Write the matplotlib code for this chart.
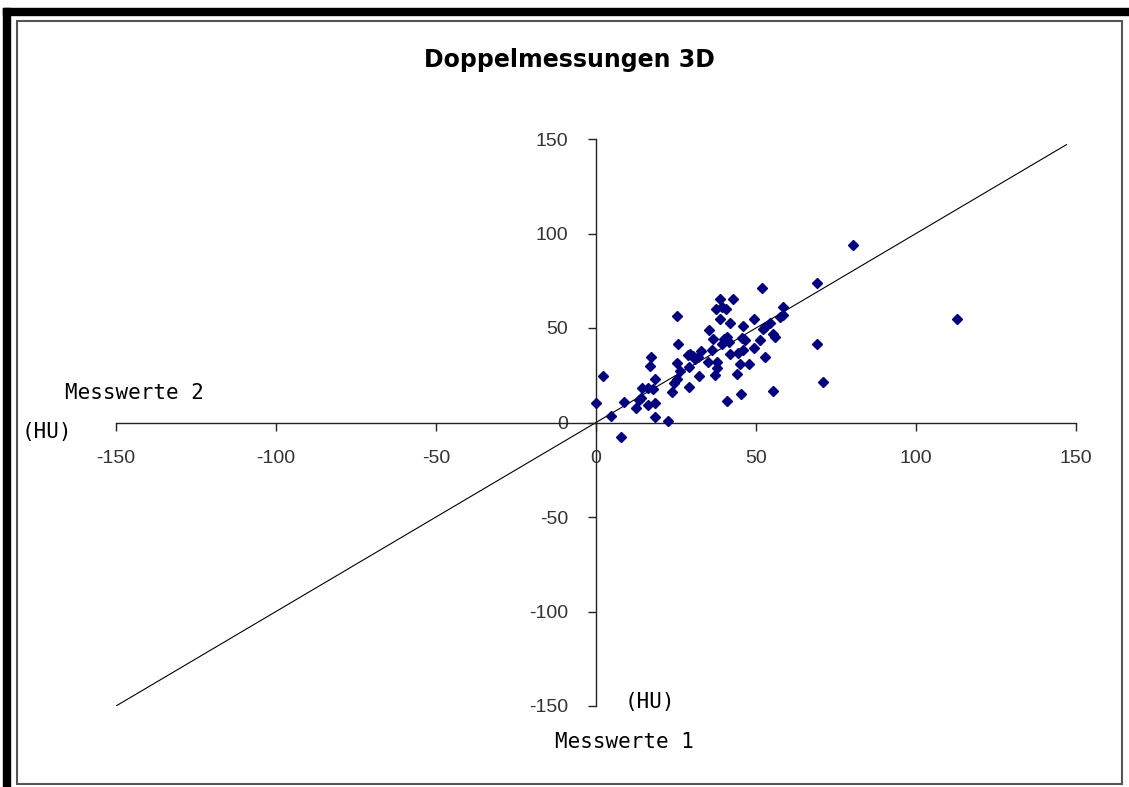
# libraries ----------------------
import matplotlib
matplotlib.use('Agg')
import matplotlib.pyplot as plt
from matplotlib.patches import Rectangle

plt.rcParams['axes.unicode_minus'] = False

# data ---------------------------
title = 'Doppelmessungen 3D'
ticks = [-150, -100, -50, 0, 50, 100, 150]

messwerte_1 = [80.2, 69.1, 52.0, 38.9, 42.8, 37.6, 40.5, 39.3, 58.3, 25.2,
               38.8, 49.3, 42.0, 46.0, 57.5, 58.3, 54.4, 52.8, 52.1, 35.2,
               36.5, 40.0, 40.8, 39.5, 41.5, 45.5, 46.6, 51.3, 55.2, 55.9,
               69.1, 25.5, 36.4, 32.8, 28.9, 30.4, 32.0, 31.0, 29.5, 41.9,
               44.5, 46.0, 49.5, 52.8, 17.1, 16.9, 25.2, 35.1, 37.7, 37.7,
               45.0, 47.8, 29.2, 26.3, 37.2, 32.2, 44.0, 2.1, 18.5, 25.2,
               24.5, 29.2, 71.0, 14.5, 16.4, 17.9, 23.6, 55.2, 45.4, 40.9,
               14.1, 13.5, 8.9, 0.0, 16.4, 18.4, 12.4, 4.6, 18.4, 22.5,
               7.7, 112.7]
messwerte_2 = [93.7, 73.7, 70.9, 65.6, 65.6, 59.8, 60.3, 61.0, 61.2, 56.6,
               54.7, 54.7, 52.4, 50.8, 55.6, 56.8, 52.4, 50.6, 49.7, 49.2,
               44.1, 44.4, 45.3, 41.6, 42.5, 44.8, 43.6, 43.6, 46.6, 45.3,
               41.3, 41.3, 38.6, 37.7, 35.6, 35.1, 34.7, 33.5, 36.5, 36.5,
               36.9, 38.3, 39.3, 34.7, 34.9, 30.0, 31.7, 32.1, 32.1, 28.9,
               30.9, 30.9, 29.5, 27.2, 25.0, 24.7, 25.7, 24.5, 22.9, 22.8,
               21.0, 18.7, 21.3, 18.0, 18.0, 17.5, 16.0, 16.9, 15.0, 11.6,
               12.7, 11.8, 10.9, 10.2, 9.2, 10.4, 7.9, 3.5, 3.0, 0.9,
               -7.6, 55.0]

# identity line y = x
ref_x = [-150, 147]
ref_y = [-150, 147]

# figure -------------------------
W, H = 1129, 787
fig = plt.figure(figsize=(W / 100, H / 100), dpi=100)
fig.patch.set_facecolor('white')

def fx(px):
    return px / W

def fy(py):
    return 1 - py / H

# screenshot frame: black L band + grey chart border
fig.patches.append(Rectangle((fx(3), fy(787)), fx(10) - fx(3), fy(8) - fy(787),
                             transform=fig.transFigure, color='black', zorder=0))
fig.patches.append(Rectangle((fx(3), fy(15)), 1 - fx(3), fy(8) - fy(15),
                             transform=fig.transFigure, color='black', zorder=0))
fig.patches.append(Rectangle((fx(17), fy(784)), fx(1122) - fx(17), fy(21) - fy(784),
                             transform=fig.transFigure, fill=False,
                             edgecolor='#555555', lw=1.5, zorder=0))

ax = fig.add_axes([fx(116), fy(706), fx(1076) - fx(116), fy(139) - fy(706)])
ax.set_facecolor('none')

ax.plot(ref_x, ref_y, color='black', lw=0.8, zorder=2)
ax.plot(messwerte_1, messwerte_2, linestyle='none', marker='D', ms=5.2,
        color='#000080', markeredgecolor='#000080', zorder=3)

ax.set_xlim(-150, 150)
ax.set_ylim(-150, 150)
ax.set_xticks(ticks)
ax.set_yticks(ticks)

for side in ['top', 'right']:
    ax.spines[side].set_visible(False)
ax.spines['left'].set_position(('data', 0))
ax.spines['bottom'].set_position(('data', 0))
for side in ['left', 'bottom']:
    ax.spines[side].set_color('#222222')
    ax.spines[side].set_linewidth(1.0)

ax.tick_params(axis='both', direction='out', length=6, width=1.0,
               color='#222222', labelcolor='#333333', labelsize=14)
ax.tick_params(axis='x', pad=14)
ax.tick_params(axis='y', pad=14)
for lab in ax.get_xticklabels() + ax.get_yticklabels():
    lab.set_family('Liberation Sans')

# texts --------------------------
fig.text(fx(569), fy(60), title, ha='center', va='center', fontsize=17,
         fontweight='bold', family='DejaVu Sans')
mono = dict(family='DejaVu Sans Mono', fontsize=15, color='black')
fig.text(fx(65), fy(393), 'Messwerte 2', ha='left', va='center', **mono)
fig.text(fx(22), fy(432), '(HU)', ha='left', va='center', **mono)
fig.text(fx(625), fy(702), '(HU)', ha='left', va='center', **mono)
fig.text(fx(555), fy(742), 'Messwerte 1', ha='left', va='center', **mono)

fig.savefig('out.png', dpi=100)
